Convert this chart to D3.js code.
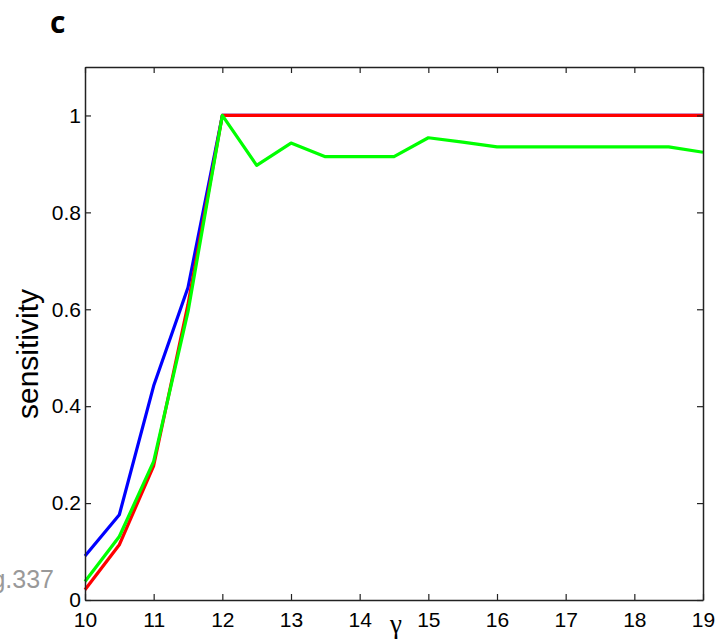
<!DOCTYPE html>
<html><head><meta charset="utf-8">
<script src="https://cdn.jsdelivr.net/npm/d3@7"></script>
<style>body{margin:0;background:#fff}svg{display:block}</style>
</head><body>
<svg id="c" width="717" height="642"></svg>
<script>
const gammaVals = [10,10.5,11,11.5,12,12.5,13,13.5,14,14.5,15,15.5,16,16.5,17,17.5,18,18.5,19];
const blueVals  = [0.091,0.176,0.442,0.645,1,1,1,1,1,1,1,1,1,1,1,1,1,1,1];
const redVals   = [0.021,0.114,0.277,0.61,1,1,1,1,1,1,1,1,1,1,1,1,1,1,1];
const greenVals = [0.038,0.131,0.286,0.595,1,0.897,0.943,0.915,0.915,0.915,0.954,0.945,0.935,0.935,0.935,0.935,0.935,0.935,0.924];
const xTicks = [10,11,12,13,14,15,16,17,18,19];
const yTicks = [0,0.2,0.4,0.6,0.8,1];
const seriesColors = ["#0000ff","#ff0000","#00ff00"];

const svg = d3.select("#c");
const L=85, R=703, T=67, B=600;
const x = d3.scaleLinear().domain([10,19]).range([L,R]);
const y = d3.scaleLinear().domain([0,1.1]).range([B,T]);
const font = "'Liberation Sans', Arial, sans-serif";

// lines
const line = d3.line().x((d,i)=>x(gammaVals[i])).y(d=>y(d));
[blueVals, redVals, greenVals].forEach((vals,k)=>{
  svg.append("path").attr("d", line(vals)).attr("fill","none")
    .attr("stroke", seriesColors[k]).attr("stroke-width",3.2).attr("stroke-linejoin","round");
});

// axes
const axB = d3.axisBottom(x).tickValues(xTicks).tickSizeInner(-6).tickSizeOuter(0).tickPadding(12).tickFormat(d3.format("d"));
const axT = d3.axisTop(x).tickValues(xTicks).tickSizeInner(-6).tickSizeOuter(0).tickFormat("");
const axL = d3.axisLeft(y).tickValues(yTicks).tickSizeInner(-6).tickSizeOuter(0).tickPadding(4).tickFormat(d=>d===0?"0":d===1?"1":d3.format(".1f")(d));
const axR = d3.axisRight(y).tickValues(yTicks).tickSizeInner(-6).tickSizeOuter(0).tickFormat("");

function style(g){
  g.select(".domain").attr("stroke","#222").attr("stroke-width",1.5);
  g.selectAll(".tick line").attr("stroke","#222").attr("stroke-width",1.2);
  g.selectAll("text").attr("font-family",font).attr("font-size",21).attr("fill","#000");
}
svg.append("g").attr("transform",`translate(0,${B})`).call(axB).call(style);
svg.append("g").attr("transform",`translate(0,${T})`).call(axT).call(style);
svg.append("g").attr("transform",`translate(${L},0)`).call(axL).call(style);
svg.append("g").attr("transform",`translate(${R},0)`).call(axR).call(style);

// labels
svg.append("text").attr("transform","translate(38,354) rotate(-90)").attr("text-anchor","middle")
  .attr("font-family",font).attr("font-size",30).text("sensitivity");
svg.append("text").attr("x",396).attr("y",633).attr("text-anchor","middle")
  .attr("font-family","'Liberation Serif', serif").attr("font-size",27).text("γ");
svg.append("text").attr("x",50).attr("y",33)
  .attr("font-family","'Open Sans', sans-serif").attr("font-weight","bold").attr("font-size",30).text("c");
svg.append("text").attr("x",54).attr("y",588).attr("text-anchor","end")
  .attr("font-family",font).attr("font-size",25).attr("fill","#999").text("g.337");
</script>
</body></html>
